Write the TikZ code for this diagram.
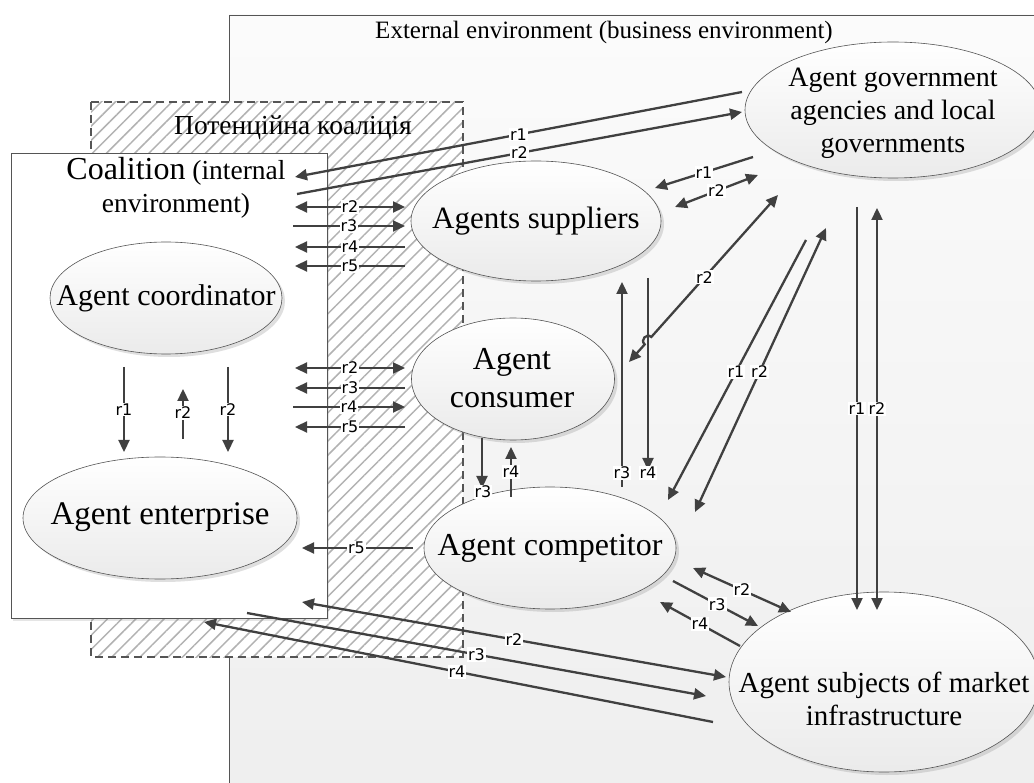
\documentclass[tikz,border=0pt]{standalone}
\usepackage{fontspec}
\setmainfont{Liberation Serif}
\newfontfamily\rfont{DejaVu Sans}
\usetikzlibrary{arrows.meta,shadows,patterns.meta,shapes.geometric}
\definecolor{ink}{HTML}{404040}
\definecolor{edgegray}{HTML}{555555}
\tikzset{
  agent/.style={ellipse, draw=edgegray, line width=0.6pt, top color=white, bottom color=gray!16,
     drop shadow={opacity=0.25, shadow xshift=3pt, shadow yshift=-3pt}, inner sep=0pt},
  agenttext/.style={align=center, inner sep=0pt, font=\fontsize{#1}{33}\selectfont},
  conn/.style={draw=ink, line width=2.3pt},
  arr/.style={conn, -{Triangle[length=12pt,width=11pt]}},
  darr/.style={conn, {Triangle[length=12pt,width=11pt]}-{Triangle[length=12pt,width=11pt]}},
  lab/.style={fill=white, inner sep=1pt, font=\rfont\fontsize{16}{18}\selectfont, text=black},
}
\begin{document}
\begin{tikzpicture}[x=1pt,y=-1pt]
\useasboundingbox (0,0) rectangle (1034,783);
\clip (0,0) rectangle (1034,783);
\fill[white] (0,0) rectangle (1034,783);
% external environment
\path[draw=edgegray, line width=0.8pt, top color=white!97!gray, bottom color=gray!13] (229,15) rectangle (1045,795);
\node[font=\fontsize{25}{28}\selectfont] (extlab) at (604,32) {External environment (business environment)};
% potential coalition
\fill[white] (91,102) rectangle (463,657);
\fill[pattern={Lines[angle=45,distance=10pt,line width=1.5pt]}, pattern color=gray!60] (91,102) rectangle (463,657);
\draw[edgegray, line width=1.2pt, dash pattern=on 8pt off 5pt] (91,102) rectangle (463,657);
\node[font=\fontsize{27.5}{30}\selectfont] (potlab) at (293,128) {Потенційна коаліція};
% coalition
\path[fill=white, draw=edgegray, line width=0.8pt, drop shadow={opacity=0.2, shadow xshift=2pt, shadow yshift=-3pt}] (11,153) rectangle (327,618);
\node[align=center, font=\fontsize{27.5}{33}\selectfont] (coallab) at (176,188) {{\fontsize{32}{33}\selectfont Coalition} (internal\\environment)};
% agents
\node[agent, minimum width=232pt, minimum height=112pt] (coord) at (166,298) {};
\node[agenttext=30] (coordt) at (coord.center) {Agent coordinator};
\node[agent, minimum width=274pt, minimum height=122pt] (ent) at (160,518) {};
\node[agenttext=33] (entt) at (160,517) {Agent enterprise};
\node[agent, minimum width=250pt, minimum height=120pt] (sup) at (536,221) {};
\node[agenttext=31] (supt) at (sup.center) {Agents suppliers};
\node[agent, minimum width=203pt, minimum height=122pt] (cons) at (513,379) {};
\node[agenttext=32, font=\fontsize{32}{38}\selectfont] (const) at (512,378) {Agent\\consumer};
\node[agent, minimum width=252pt, minimum height=122pt] (comp) at (550,548) {};
\node[agenttext=32] (compt) at (comp.center) {Agent competitor};
\node[agent, minimum width=296pt, minimum height=136pt] (gov) at (893,110) {};
\node[agenttext=28] (govt) at (893,113) {Agent government\\agencies and local\\governments};
\node[agent, minimum width=310pt, minimum height=180pt] (infra) at (884,682) {};
\node[agenttext=29] (infrat) at (884,699) {Agent subjects of market\\infrastructure};
% connector end points
\coordinate (t1a) at (742,92);  \coordinate (t1b) at (295,177);
\coordinate (t2a) at (297,194); \coordinate (t2b) at (742,112);
\coordinate (s2a) at (295,207); \coordinate (s2b) at (405,207);
\coordinate (s3a) at (293,226); \coordinate (s3b) at (405,226);
\coordinate (s4a) at (405,247); \coordinate (s4b) at (295,247);
\coordinate (s5a) at (405,266); \coordinate (s5b) at (295,266);
\coordinate (c2a) at (295,368); \coordinate (c2b) at (405,368);
\coordinate (c3a) at (405,388); \coordinate (c3b) at (295,388);
\coordinate (c4a) at (293,407); \coordinate (c4b) at (405,407);
\coordinate (c5a) at (405,427); \coordinate (c5b) at (295,427);
\coordinate (e1a) at (124,367); \coordinate (e1b) at (124,452);
\coordinate (e2a) at (183,439); \coordinate (e2b) at (183,389);
\coordinate (e3a) at (228,367); \coordinate (e3b) at (228,452);
\coordinate (k3a) at (482,438); \coordinate (k3b) at (482,488);
\coordinate (k4a) at (511,497); \coordinate (k4b) at (511,447);
\coordinate (r5a) at (413,548); \coordinate (r5b) at (302,548);
\coordinate (g1a) at (753,157); \coordinate (g1b) at (655,188);
\coordinate (g2a) at (675,207); \coordinate (g2b) at (758,175);
\coordinate (h2a) at (778,195); \coordinate (h2b) at (629,362);
\coordinate (hop1) at (651.3,337.0); \coordinate (hop2) at (644.7,344.4);
\coordinate (v3a) at (622,487); \coordinate (v3b) at (622,282);
\coordinate (v4a) at (648,278); \coordinate (v4b) at (648,470);
\coordinate (d1a) at (806,240); \coordinate (d1b) at (668,500);
\coordinate (d2a) at (826,228); \coordinate (d2b) at (695,512);
\coordinate (w1a) at (857,207); \coordinate (w1b) at (857,610);
\coordinate (w2a) at (877,208); \coordinate (w2b) at (877,610);
\coordinate (i2a) at (693,568); \coordinate (i2b) at (791,612);
\coordinate (i3a) at (673,581); \coordinate (i3b) at (758,626);
\coordinate (i4a) at (740,646); \coordinate (i4b) at (660,602);
\coordinate (b2a) at (302,602); \coordinate (b2b) at (726,677);
\coordinate (b3a) at (247,613); \coordinate (b3b) at (706,696);
\coordinate (b4a) at (713,722); \coordinate (b4b) at (204,622);
% connectors
\draw[arr] (t1a) -- node[lab]{r1} (t1b);
\draw[arr] (t2a) -- node[lab]{r2} (t2b);
\draw[darr] (s2a) -- node[lab]{r2} (s2b);
\draw[arr] (s3a) -- node[lab]{r3} (s3b);
\draw[arr] (s4a) -- node[lab]{r4} (s4b);
\draw[arr] (s5a) -- node[lab]{r5} (s5b);
\draw[darr] (c2a) -- node[lab]{r2} (c2b);
\draw[arr] (c3a) -- node[lab]{r3} (c3b);
\draw[arr] (c4a) -- node[lab]{r4} (c4b);
\draw[arr] (c5a) -- node[lab]{r5} (c5b);
\draw[arr] (e1a) -- node[lab]{r1} (e1b);
\draw[arr] (e2a) -- node[lab,pos=0.52]{r2} (e2b);
\draw[arr] (e3a) -- node[lab]{r2} (e3b);
\draw[arr] (k3a) -- (k3b);
\node[lab] (k3lab) at (483,492) {r3};
\draw[arr] (k4a) -- node[lab]{r4} (k4b);
\draw[arr] (r5a) -- node[lab,pos=0.51]{r5} (r5b);
\draw[arr] (g1a) -- node[lab]{r1} (g1b);
\draw[darr] (g2a) -- node[lab]{r2} (g2b);
\draw[arr] (v3a) -- node[lab,pos=0.07]{r3} (v3b);
\draw[arr] (v4a) -- (v4b);
\node[lab] (v4lab) at (648,473) {r4};
\draw[darr] (h2a) -- node[lab,pos=0.58]{r2} (hop1) .. controls (646.45,332.67) and (639.85,340.07) .. (hop2) -- (h2b);
\draw[arr] (d1a) -- node[lab,pos=0.508]{r1} (d1b);
\draw[darr] (d2a) -- node[lab,pos=0.507]{r2} (d2b);
\draw[arr] (w1a) -- node[lab]{r1} (w1b);
\draw[darr] (w2a) -- node[lab]{r2} (w2b);
\draw[darr] (i2a) -- node[lab]{r2} (i2b);
\draw[arr] (i3a) -- node[lab,pos=0.52]{r3} (i3b);
\draw[arr] (i4a) -- node[lab]{r4} (i4b);
\draw[darr] (b2a) -- node[lab]{r2} (b2b);
\draw[arr] (b3a) -- node[lab]{r3} (b3b);
\draw[arr] (b4a) -- node[lab,pos=0.503]{r4} (b4b);
\end{tikzpicture}
\end{document}
